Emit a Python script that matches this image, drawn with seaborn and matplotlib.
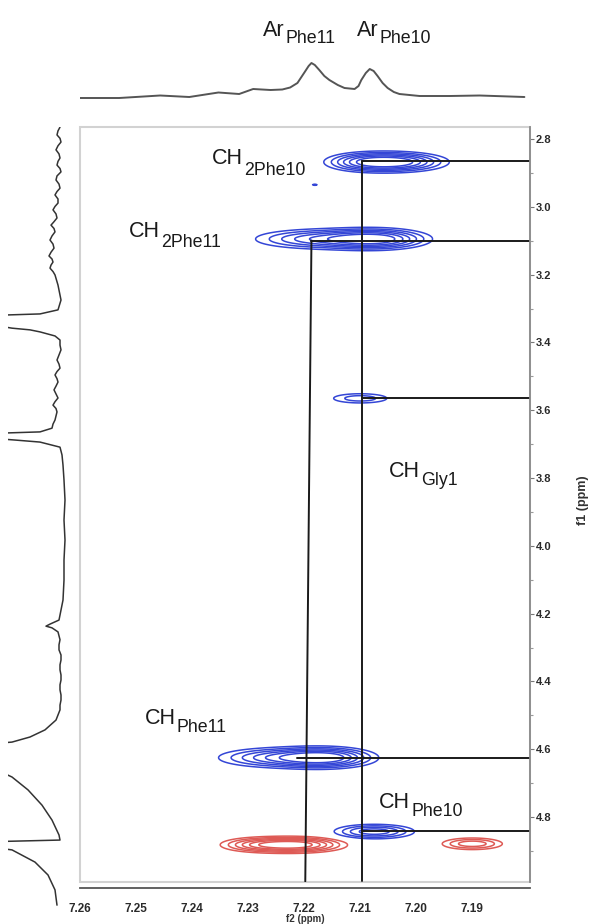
import numpy as np
import pandas as pd
import matplotlib
matplotlib.use('Agg')
import matplotlib.pyplot as plt
from matplotlib.patches import Rectangle
import seaborn as sns

# --- values ---

# F2 projection on top: shift (ppm) and intensity (a.u.)
top_ppm = [7.2601, 7.2530, 7.2457, 7.2405, 7.2353, 7.2316, 7.2291, 7.2260, 7.2239,
           7.2225, 7.2212, 7.2199, 7.2192, 7.2187, 7.2181, 7.2173, 7.2164, 7.2155,
           7.2140, 7.2128, 7.2110, 7.2103, 7.2098, 7.2090, 7.2083, 7.2076, 7.2069,
           7.2060, 7.2051, 7.2040, 7.2030, 7.1994, 7.1940, 7.1887, 7.1807]
top_int = [2, 2, 4.5, 3, 7.5, 6, 11, 10, 10.5,
           12.5, 17, 28, 34, 37, 35, 30, 24, 20,
           15, 12, 11, 14, 20, 27, 31, 29, 24,
           17, 12, 8, 6, 4, 4, 4.5, 3]

# F1 projection on the left: shift (ppm) and intensity (a.u.), big peaks run off scale
left_ppm = [2.765, 2.776, 2.788, 2.798, 2.809, 2.820, 2.832, 2.844, 2.856, 2.866,
            2.877, 2.887, 2.897, 2.909, 2.921, 2.933, 2.945, 2.955, 2.965, 2.977,
            2.989, 2.999, 3.009, 3.021, 3.033, 3.044, 3.054, 3.064, 3.074, 3.086,
            3.098, 3.110, 3.122, 3.134, 3.145, 3.154, 3.163, 3.172, 3.181, 3.191,
            3.201, 3.231, 3.275, 3.304, 3.316, 3.322, 3.340, 3.358, 3.363, 3.369,
            3.381, 3.393, 3.408, 3.422, 3.437, 3.452, 3.464, 3.476, 3.486, 3.496,
            3.507, 3.517, 3.529, 3.540, 3.552, 3.564, 3.575, 3.585, 3.595, 3.605,
            3.617, 3.629, 3.641, 3.653, 3.664, 3.670, 3.679, 3.688, 3.694, 3.709,
            3.732, 3.762, 3.806, 3.865, 3.924, 3.983, 4.042, 4.101, 4.160, 4.189,
            4.219, 4.231, 4.237, 4.242, 4.254, 4.277, 4.292, 4.307, 4.322, 4.337,
            4.351, 4.366, 4.381, 4.396, 4.410, 4.425, 4.440, 4.455, 4.470, 4.484,
            4.514, 4.543, 4.564, 4.579, 4.588, 4.632, 4.682, 4.720, 4.765, 4.809,
            4.853, 4.868, 4.874, 4.883, 4.897, 4.933, 4.971, 5.015, 5.060]
left_int = [5, 7, 8, 5, 4, 7, 9, 6, 5, 7,
            8, 5, 4, 8, 9, 6, 5, 8, 10, 7,
            7, 10, 12, 9, 8, 11, 14, 11, 10, 13,
            15, 12, 11, 14, 16, 13, 12, 14, 15, 12,
            10, 7, 4, 7, 25, 90, 90, 53, 35, 25,
            10, 5, 5, 4, 6, 8, 6, 5, 8, 10,
            8, 7, 9, 11, 9, 7, 10, 12, 9, 8,
            9, 10, 12, 13, 25, 90, 90, 50, 25, 5,
            3, 2, 1, 0, 1, 0, 1, 1, 2, 4,
            6, 15, 19, 13, 7, 5, 6, 6, 4, 4,
            5, 5, 4, 4, 5, 5, 4, 4, 5, 5,
            9, 20, 35, 53, 90, 90, 53, 37, 23, 13,
            6, 5, 90, 90, 53, 30, 17, 10, 8]

# cross peak components: F2 centre, F1 centre, F2 width, F1 width, height (negative = red)
peak_f2 = [7.2040, 7.2090, 7.2181, 7.2075, 7.2170, 7.2100, 7.2165, 7.2245, 7.2075,
           7.2215, 7.2280, 7.1900]
peak_f1 = [2.868, 2.868, 2.935, 3.095, 3.095, 3.565, 4.625, 4.625, 4.843,
           4.882, 4.882, 4.879]
peak_w2 = [0.0048, 0.0040, 0.0006, 0.0050, 0.0065, 0.0035, 0.0047, 0.0060, 0.0040,
           0.0045, 0.0040, 0.0033]
peak_w1 = [0.015, 0.015, 0.0025, 0.016, 0.016, 0.010, 0.016, 0.016, 0.012,
           0.012, 0.012, 0.0105]
peak_amp = [1.0, 0.5, 0.15, 1.0, 0.6, 0.3, 1.0, 0.6, 0.6, -1.0, -0.5, -0.45]
contour_levels = [0.12, 0.22, 0.34, 0.48, 0.64, 0.84]

# assignment lines
vline_f2_start = [7.2187, 7.2097]
vline_f2_end = [7.2198, 7.2097]
vline_f1_start = [3.10, 2.865]
hline_f1 = [2.865, 3.10, 3.565, 4.625, 4.84]
hline_f2_start = [7.2097, 7.2187, 7.2097, 7.2213, 7.2097]

# labels
label_main = ['CH', 'CH', 'CH', 'CH', 'CH']
label_sub = ['2Phe10', '2Phe11', 'Gly1', 'Phe11', 'Phe10']
label_f2 = [7.2365, 7.2512, 7.2048, 7.2485, 7.2066]
label_f1 = [2.874, 3.089, 3.797, 4.526, 4.773]
label_drop = [11, 10, 8, 8, 8]
ar_sub = ['Phe11', 'Phe10']
ar_f2 = [7.2274, 7.2106]

x_ticks = [7.26, 7.25, 7.24, 7.23, 7.22, 7.21, 7.20, 7.19]
y_ticks = [2.8, 3.0, 3.2, 3.4, 3.6, 3.8, 4.0, 4.2, 4.4, 4.6, 4.8]

# --- figure ---
sns.set_style('white')
plt.rcParams['font.family'] = ['Liberation Sans', 'DejaVu Sans']

W, H = 592, 924
fig = plt.figure(figsize=(W / 100, H / 100), dpi=100)


def px_axes(x0, y0, x1, y1):
    return fig.add_axes([x0 / W, 1 - y1 / H, (x1 - x0) / W, (y1 - y0) / H])


xlim = (7.26, 7.1797)
ax = px_axes(80, 127, 530, 882)
ax_top = px_axes(80, 50, 530, 105)
ax_left = px_axes(8, 127, 70, 910)

# contours
g2 = np.linspace(7.178, 7.262, 900)
g1 = np.linspace(2.75, 5.0, 1400)
X, Y = np.meshgrid(g2, g1)
Z = np.zeros_like(X)
for f2, f1, w2, w1, a in zip(peak_f2, peak_f1, peak_w2, peak_w1, peak_amp):
    Z += a * np.exp(-0.5 * (((X - f2) / w2) ** 2 + ((Y - f1) / w1) ** 2))
ax.contour(X, Y, Z, levels=contour_levels, colors='#3446d6', linewidths=1.1,
           linestyles='solid')
ax.contour(X, Y, Z, levels=[-l for l in reversed(contour_levels)], colors='#de5a55',
           linewidths=1.1, linestyles='solid')

# assignment lines
for xa, xb, ya in zip(vline_f2_start, vline_f2_end, vline_f1_start):
    ax.plot([xa, xb], [ya, 4.99], color='#1a1a1a', lw=1.4)
for yh, xs in zip(hline_f1, hline_f2_start):
    ax.plot([xs, xlim[1]], [yh, yh], color='#1a1a1a', lw=1.4)

ax.set_xlim(*xlim)
ax.set_ylim(4.9917, 2.7646)

# frame: light box, dark right and bottom axes
ax.add_patch(Rectangle((0, 0), 1, 1, transform=ax.transAxes, fill=False,
                       edgecolor='#d2d2d2', lw=1.5, clip_on=False))
for s in ['top', 'left']:
    ax.spines[s].set_visible(False)
ax.spines['right'].set_color('#8a8a8a')
ax.spines['right'].set_linewidth(1.3)
ax.spines['bottom'].set_color('#555555')
ax.spines['bottom'].set_linewidth(1.3)
ax.spines['bottom'].set_position(('outward', 4))

ax.yaxis.tick_right()
ax.set_yticks(y_ticks)
ax.set_yticks([t + 0.1 for t in y_ticks], minor=True)
ax.set_yticklabels([f'{t:.1f}' for t in y_ticks])
ax.set_xticks(x_ticks)
ax.set_xticks([t - 0.005 for t in x_ticks], minor=True)
ax.set_xticklabels([f'{t:.2f}' for t in x_ticks])
ax.tick_params(axis='y', which='major', direction='out', length=3, width=0.8,
               color='#777777', labelsize=8, pad=1, labelcolor='#2a2a2a')
ax.tick_params(axis='y', which='minor', direction='out', length=2, width=0.8,
               color='#999999')
ax.tick_params(axis='x', which='major', direction='out', length=5, width=1,
               color='#555555', labelsize=8.5, pad=6, labelcolor='#2a2a2a')
ax.tick_params(axis='x', which='minor', direction='out', length=3, width=1,
               color='#777777')
for lab in ax.get_xticklabels() + ax.get_yticklabels():
    lab.set_family(['Liberation Sans Narrow', 'Liberation Sans'])
    lab.set_fontweight('bold')
ax.grid(False)

# 1D projections
top_df = pd.DataFrame({'ppm': top_ppm, 'intensity': top_int})
sns.lineplot(data=top_df, x='ppm', y='intensity', ax=ax_top, color='#555555',
             lw=1.4, sort=False, estimator=None)
ax_top.set_xlim(*xlim)
ax_top.set_ylim(-5, 50)
ax_top.axis('off')

left_df = pd.DataFrame({'ppm': left_ppm, 'intensity': left_int})
sns.lineplot(data=left_df, x='intensity', y='ppm', ax=ax_left, color='#333333',
             lw=1.1, sort=False, estimator=None)
ax_left.set_xlim(57, -5)
ax_left.set_ylim(5.0743, 2.7646)
ax_left.axis('off')

# peak labels with subscripts
renderer = fig.canvas.get_renderer()


def peak_label(axis, x, y, main, sub, drop=8):
    t = axis.text(x, y, main, fontsize=15.5, ha='left', va='baseline',
                  color='#1a1a1a', clip_on=False)
    w = t.get_window_extent(renderer).width
    axis.annotate(sub, xy=(x, y), xytext=(w + 1, -drop), textcoords='offset pixels',
                  fontsize=12.8, ha='left', va='baseline', color='#1a1a1a',
                  annotation_clip=False)


for m, s, x, y, d in zip(label_main, label_sub, label_f2, label_f1, label_drop):
    peak_label(ax, x, y, m, s, drop=d)
for s, x in zip(ar_sub, ar_f2):
    peak_label(ax_top, x, 64, 'Ar', s, drop=7)

fig.text(583 / W, 1 - 500 / H, 'f1 (ppm)', rotation=90, ha='center', va='center',
         fontsize=9, fontweight='bold', color='#333333')
fig.text(305 / W, 1 - 914 / H, 'f2 (ppm)', ha='center', va='top', fontsize=7,
         fontweight='bold', color='#333333')

fig.savefig('out.png', dpi=100, facecolor='white')
